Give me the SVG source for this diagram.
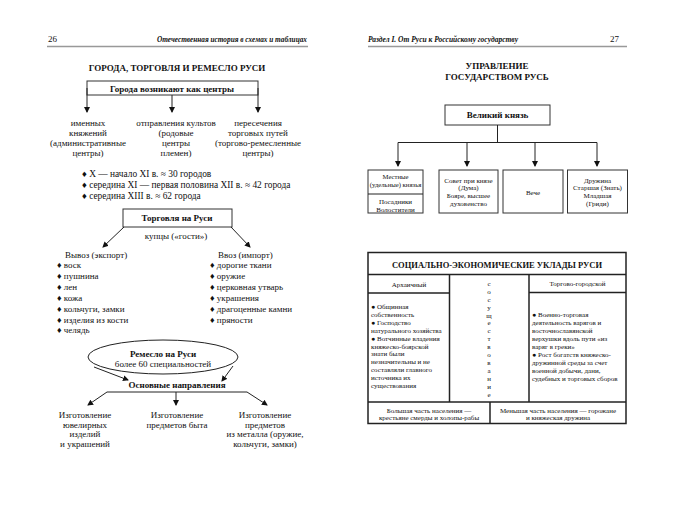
<svg xmlns="http://www.w3.org/2000/svg" width="674" height="523" viewBox="0 0 674 523">
<style>
text{font-family:"Liberation Serif","Times New Roman",serif;fill:#111}
.t{font-size:9px}
.b{font-weight:bold}
.c{text-anchor:middle}
.s{font-size:7px}
.hd{font-size:8.5px;font-style:italic;font-weight:bold}
.ln{stroke:#222;stroke-width:1;fill:none}
.box{stroke:#333;stroke-width:1;fill:#fff}
.tb{stroke:#222;stroke-width:1.5;fill:none}
.rule{stroke:#999;stroke-width:1.6}
</style>
<defs>
<marker id="ar" markerWidth="6" markerHeight="6" refX="5" refY="3" orient="auto" markerUnits="userSpaceOnUse">
<path d="M0,0 L6,3 L0,6 Z" fill="#111"/>
</marker>
</defs>
<rect width="674" height="523" fill="#fff"/>

<g id="headers">
<text class="t" x="48" y="42">26</text>
<text class="hd" x="307" y="42" text-anchor="end" textLength="150" lengthAdjust="spacingAndGlyphs">Отечественная история в схемах и таблицах</text>
<line class="rule" x1="47" y1="46.5" x2="308" y2="46.5"/>
<text class="hd" x="368" y="42" textLength="150" lengthAdjust="spacingAndGlyphs">Раздел I. От Руси к Российскому государству</text>
<text class="t" x="619" y="42" text-anchor="end">27</text>
<line class="rule" x1="368" y1="46.5" x2="627" y2="46.5"/>
</g>

<g id="title-left"><text class="t b c" x="177" y="71">ГОРОДА, ТОРГОВЛЯ И РЕМЕСЛО РУСИ</text></g>

<g id="cities-box">
<rect class="box" x="87" y="81" width="171" height="14"/>
<text class="t b c" x="172" y="91.5">Города возникают как центры</text>
</g>

<g id="col-left"><text class="t c" x="88" y="125.5">именных<tspan x="88" dy="10">княжений</tspan><tspan x="88" dy="10">(административные</tspan><tspan x="88" dy="10">центры)</tspan></text></g>
<g id="col-mid"><text class="t c" x="176" y="125.5">отправления культов<tspan x="176" dy="10">(родовые</tspan><tspan x="176" dy="10">центры</tspan><tspan x="176" dy="10">племен)</tspan></text></g>
<g id="col-right"><text class="t c" x="258" y="125.5">пересечения<tspan x="258" dy="10">торговых путей</tspan><tspan x="258" dy="10">(торгово-ремесленные</tspan><tspan x="258" dy="10">центры)</tspan></text></g>

<g id="city-counts" style="font-size:9.4px">
<text x="82" y="176.5">♦ X — начало XI в. ≈   30 городов</text>
<text x="82" y="187.5">♦ середина XI — первая половина XII в. ≈   42 города</text>
<text x="82" y="198.5">♦ середина XIII в. ≈   62 города</text>
</g>

<g id="trade-box">
<rect class="box" x="123" y="209" width="109" height="18"/>
<text class="t b c" x="177" y="221">Торговля на Руси</text>
<text class="t c" x="176" y="239">купцы («гости»)</text>
</g>

<g id="export">
<text class="t" x="65" y="258">Вывоз (экспорт)</text>
<text class="t" x="57" y="268">♦ воск</text>
<text class="t" x="57" y="279">♦ пушнина</text>
<text class="t" x="57" y="290">♦ лен</text>
<text class="t" x="57" y="301">♦ кожа</text>
<text class="t" x="57" y="312">♦ кольчуги, замки</text>
<text class="t" x="57" y="322.5">♦ изделия из кости</text>
<text class="t" x="57" y="333">♦ челядь</text>
</g>

<g id="import">
<text class="t" x="218" y="258">Ввоз (импорт)</text>
<text class="t" x="210" y="268">♦ дорогие ткани</text>
<text class="t" x="210" y="279">♦ оружие</text>
<text class="t" x="210" y="290">♦ церковная утварь</text>
<text class="t" x="210" y="301">♦ украшения</text>
<text class="t" x="210" y="312">♦ драгоценные камни</text>
<text class="t" x="210" y="322.5">♦ пряности</text>
</g>

<g id="craft">
<ellipse cx="163" cy="357" rx="75" ry="17" fill="#fff" stroke="#222" stroke-width="1"/>
<text class="t b c" x="163" y="357">Ремесло на Руси</text>
<text class="t c" x="163" y="367">более 60 специальностей</text>
</g>

<g id="directions"><text class="t b c" x="177" y="388">Основные направления</text></g>

<g id="dir-1"><text class="t c" x="85" y="418">Изготовление<tspan x="85" dy="9.7">ювелирных</tspan><tspan x="85" dy="9.7">изделий</tspan><tspan x="85" dy="9.7">и украшений</tspan></text></g>
<g id="dir-2"><text class="t c" x="177" y="418">Изготовление<tspan x="177" dy="9.7">предметов быта</tspan></text></g>
<g id="dir-3"><text class="t c" x="265" y="418">Изготовление<tspan x="265" dy="9.7">предметов</tspan><tspan x="265" dy="9.7">из металла (оружие,</tspan><tspan x="265" dy="9.7">кольчуги, замки)</tspan></text></g>

<g id="title-right"><text class="t b c" x="497" y="69">УПРАВЛЕНИЕ<tspan x="497" dy="11">ГОСУДАРСТВОМ РУСЬ</tspan></text></g>

<g id="grand-prince">
<rect class="box" x="445" y="105" width="105" height="20"/>
<text class="t b c" x="497.5" y="118">Великий князь</text>
</g>

<g id="local-princes">
<rect class="box" x="368" y="170" width="55" height="43"/>
<line class="ln" x1="368" y1="194" x2="423" y2="194"/>
<text class="s c" x="395.5" y="179" style="font-size:6.7px">Местные<tspan x="395.5" dy="7.7">(удельные) князья</tspan></text>
<text class="s c" x="395.5" y="203.5">Посадники<tspan x="395.5" dy="8">Волостители</tspan></text>
</g>
<g id="council">
<rect class="box" x="439" y="170" width="59" height="43"/>
<text class="s c" x="468.5" y="182.5">Совет при князе<tspan x="468.5" dy="7.7">(Дума)</tspan><tspan x="468.5" dy="8.2">Бояре, высшее</tspan><tspan x="468.5" dy="7.7">духовенство</tspan></text>
</g>
<g id="veche">
<rect class="box" x="503" y="170" width="60" height="43"/>
<text class="s c" x="533" y="194.5">Вече</text>
</g>
<g id="druzhina">
<rect class="box" x="567.5" y="170" width="60" height="43"/>
<text class="s c" x="597.5" y="182.5">Дружина<tspan x="597.5" dy="7.7">Старшая (Знать)</tspan><tspan x="597.5" dy="8">Младшая</tspan><tspan x="597.5" dy="7.7">(Гриди)</tspan></text>
</g>

<g id="table">
<rect class="tb" x="368" y="252.5" width="258" height="171"/>
<line class="tb" x1="368" y1="274.5" x2="626" y2="274.5"/>
<line class="tb" x1="449.5" y1="274.5" x2="449.5" y2="402"/>
<line class="tb" x1="529" y1="274.5" x2="529" y2="402"/>
<line class="tb" x1="368" y1="293" x2="449.5" y2="293"/>
<line class="tb" x1="529" y1="292.5" x2="626" y2="292.5"/>
<line class="tb" x1="368" y1="402" x2="626" y2="402"/>
<line class="tb" x1="490" y1="402" x2="490" y2="423.5"/>
<text class="b c" style="font-size:8.5px" x="497" y="267.5">СОЦИАЛЬНО-ЭКОНОМИЧЕСКИЕ УКЛАДЫ РУСИ</text>
<text class="s c" x="409" y="286.5">Архаичный</text>
<text class="s c" x="577.5" y="286">Торгово-городской</text>
<text class="s" x="371" y="309">● Общинная<tspan x="371" dy="7.9">собственность</tspan><tspan x="371" dy="7.9">● Господство</tspan><tspan x="371" dy="7.9">натурального хозяйства</tspan><tspan x="371" dy="7.9">● Вотчинные владения</tspan><tspan x="371" dy="7.9">княжеско-боярской</tspan><tspan x="371" dy="7.9">знати были</tspan><tspan x="371" dy="7.9">незначительны и не</tspan><tspan x="371" dy="7.9">составляли главного</tspan><tspan x="371" dy="7.9">источника их</tspan><tspan x="371" dy="7.9">существования</tspan></text>
<text class="s c" x="489" y="285.8">с<tspan x="489" dy="7.93">о</tspan><tspan x="489" dy="7.93">с</tspan><tspan x="489" dy="7.93">у</tspan><tspan x="489" dy="7.93">щ</tspan><tspan x="489" dy="7.93">е</tspan><tspan x="489" dy="7.93">с</tspan><tspan x="489" dy="7.93">т</tspan><tspan x="489" dy="7.93">в</tspan><tspan x="489" dy="7.93">о</tspan><tspan x="489" dy="7.93">в</tspan><tspan x="489" dy="7.93">а</tspan><tspan x="489" dy="7.93">н</tspan><tspan x="489" dy="7.93">и</tspan><tspan x="489" dy="7.93">е</tspan></text>
<text class="s" x="532" y="316.5">●  Военно-торговая<tspan x="532" dy="8">деятельность варягов и</tspan><tspan x="532" dy="8">восточнославянской</tspan><tspan x="532" dy="8">верхушки вдоль пути «из</tspan><tspan x="532" dy="8">варяг в греки»</tspan><tspan x="532" dy="8">● Рост богатств княжеско-</tspan><tspan x="532" dy="8">дружинной среды за счет</tspan><tspan x="532" dy="8">военной добычи, дани,</tspan><tspan x="532" dy="8">судебных и торговых сборов</tspan></text>
<text class="s c" x="429" y="412.5">Большая часть населения —<tspan x="429" dy="7.5">крестьяне смерды и холопы-рабы</tspan></text>
<text class="s c" x="558" y="412.5">Меньшая часть населения — горожане<tspan x="558" dy="7.5">и  княжеская дружина</tspan></text>
</g>

<g id="connectors">
<path class="ln" d="M87,88 V112" marker-end="url(#ar)"/>
<path class="ln" d="M258,88 V112" marker-end="url(#ar)"/>
<path class="ln" d="M172,95 V112" marker-end="url(#ar)"/>
<path class="ln" d="M124,227 L103,247" marker-end="url(#ar)"/>
<path class="ln" d="M231,227 L250,247" marker-end="url(#ar)"/>
<path class="ln" d="M94,367 L128,380" marker-end="url(#ar)"/>
<path class="ln" d="M233,366 L222,381" marker-end="url(#ar)"/>
<path class="ln" d="M107,392 H247"/>
<path class="ln" d="M107,392 L88,405" marker-end="url(#ar)"/>
<path class="ln" d="M176,392 V405" marker-end="url(#ar)"/>
<path class="ln" d="M247,392 L267,405" marker-end="url(#ar)"/>
<path class="ln" d="M497.5,125 V142.5"/>
<path class="ln" d="M398,142.5 H597"/>
<path class="ln" d="M398,142.5 V166" marker-end="url(#ar)"/>
<path class="ln" d="M467,142.5 V166" marker-end="url(#ar)"/>
<path class="ln" d="M535,142.5 V166" marker-end="url(#ar)"/>
<path class="ln" d="M597,142.5 V166" marker-end="url(#ar)"/>
</g>
</svg>
